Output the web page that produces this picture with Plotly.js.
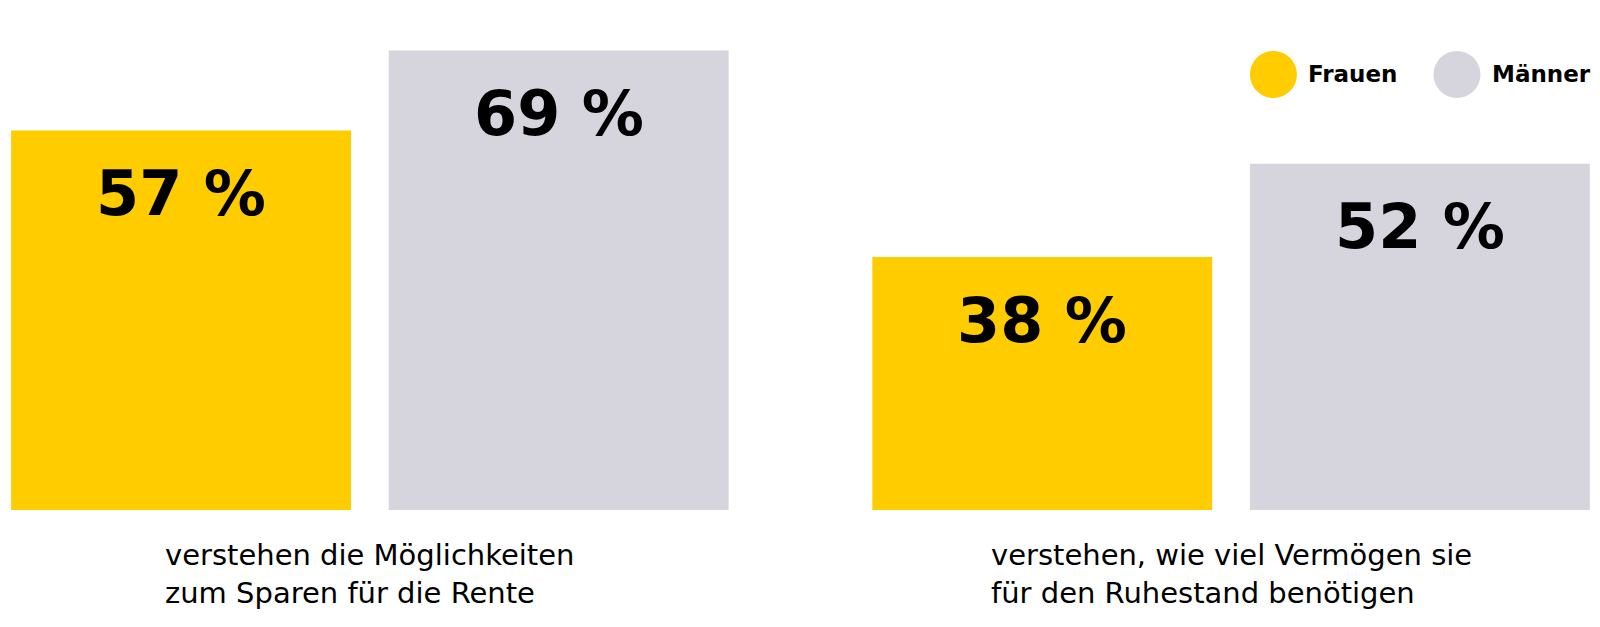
<!DOCTYPE html>
<html>
<head>
<meta charset="utf-8">
<script src="https://cdn.plot.ly/plotly-3.0.1.min.js"></script>
<style>
  html, body { margin: 0; padding: 0; background: #fff; }
  #chart { width: 1600px; height: 627px; }
</style>
</head>
<body>
<div id="chart"></div>
<script>
  // ── data ──────────────────────────────────────────────────────────────────
  const categories = [
    'verstehen die Möglichkeiten<br>zum Sparen für die Rente',
    'verstehen, wie viel Vermögen sie<br>für den Ruhestand benötigen'
  ];
  const seriesNames = ['Frauen', 'Männer'];
  const frauen = [57, 38];
  const maenner = [69, 52];
  const seriesColors = ['#ffcc00', '#d6d5de'];

  // ── layout constants ──────────────────────────────────────────────────────
  const BARGAP = 0.123;
  const GROUPGAP = 0.1;
  const boldFont = 'DejaVu Sans, sans-serif';
  const xPos = categories.map(function (_, i) { return i; });

  const traces = [frauen, maenner].map(function (vals, j) {
    return {
      type: 'bar',
      x: xPos,
      y: vals,
      name: seriesNames[j],
      marker: { color: seriesColors[j], line: { width: 0 } },
      hoverinfo: 'skip',
      showlegend: false,
    };
  });

  // value labels, sitting inside each bar near its top
  const slot = (1 - BARGAP) / 4;
  const annotations = [];
  [frauen, maenner].forEach(function (vals, j) {
    vals.forEach(function (v, i) {
      annotations.push({
        x: i + (j === 0 ? -slot : slot), y: v, xref: 'x', yref: 'y',
        text: '<b>' + v + ' %</b>', showarrow: false,
        yanchor: 'middle', yshift: -63,
        font: { family: boldFont, size: 62, color: '#000' },
      });
    });
  });

  // category texts under the groups
  categories.forEach(function (c, i) {
    annotations.push({
      x: i, y: 0, xref: 'x', yref: 'y',
      text: c, showarrow: false, align: 'left',
      xanchor: 'center', yanchor: 'top', yshift: -26,
      font: { family: 'DejaVu Sans, sans-serif', size: 29, color: '#000' },
    });
  });

  // legend: round swatches + bold names
  const legendX = [0.7959, 0.9106];
  const legendY = 0.854;
  const shapes = [];
  seriesNames.forEach(function (n, j) {
    shapes.push({
      type: 'circle', xref: 'paper', yref: 'paper',
      xsizemode: 'pixel', ysizemode: 'pixel',
      xanchor: legendX[j], yanchor: legendY,
      x0: -23.5, x1: 23.5, y0: -23.5, y1: 23.5,
      fillcolor: seriesColors[j], line: { width: 0 },
    });
    annotations.push({
      x: legendX[j], y: legendY, xref: 'paper', yref: 'paper',
      xanchor: 'left', yanchor: 'middle', xshift: 33,
      text: '<b>' + n + '</b>', showarrow: false,
      font: { family: boldFont, size: 23, color: '#000' },
    });
  });

  const layout = {
    width: 1600,
    height: 627,
    margin: { l: 0, r: 0, t: 0, b: 117, pad: 0 },
    paper_bgcolor: '#fff',
    plot_bgcolor: '#fff',
    barmode: 'group',
    bargap: BARGAP,
    bargroupgap: GROUPGAP,
    showlegend: false,
    xaxis: {
      type: 'linear', range: [-0.4295, 1.4284],
      showgrid: false, zeroline: false, showticklabels: false, showline: false,
    },
    yaxis: {
      range: [0, 76.6],
      showgrid: false, zeroline: false, showticklabels: false, showline: false,
    },
    annotations: annotations,
    shapes: shapes,
  };

  Plotly.newPlot('chart', traces, layout, { staticPlot: true, displayModeBar: false });
</script>
</body>
</html>
